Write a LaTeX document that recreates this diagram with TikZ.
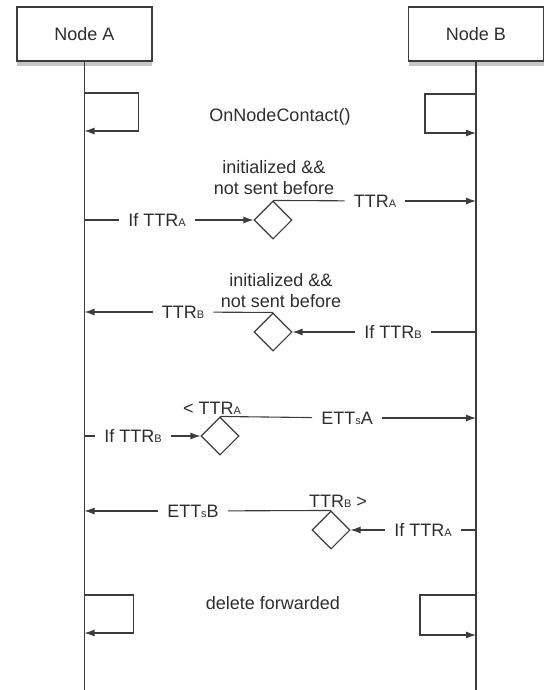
\documentclass[tikz,border=0pt]{standalone}
\usepackage{fontspec}
\setmainfont{Liberation Sans}
\usepackage{tikz}
\usetikzlibrary{arrows.meta,shapes.geometric,shadows}
\definecolor{linec}{HTML}{3C3C3C}
\definecolor{txtc}{HTML}{2E2E2E}
\newcommand{\smidx}[1]{{\fontsize{11}{11}\selectfont #1}}
\tikzset{
  ar/.style={-{Latex[length=10pt,width=7pt]},line width=1.1pt,linec},
  ln/.style={line width=1.1pt,linec},
  obj/.style={draw=linec,line width=1.1pt,fill=white,minimum width=135pt,minimum height=54pt,inner sep=0pt,text=txtc,font=\fontsize{18}{21}\selectfont,drop shadow={shadow xshift=0pt,shadow yshift=-5pt,opacity=0.45}},
  dm/.style={diamond,draw=linec,line width=1.1pt,minimum size=38pt,inner sep=0pt},
  lbl/.style={text=txtc,inner xsep=9pt,inner ysep=2pt,font=\fontsize{18}{21}\selectfont},
  cond/.style={lbl,align=center}
}

\begin{document}
\begin{tikzpicture}[x=1pt,y=-1pt]
\useasboundingbox (0,0) rectangle (544,690);
% objects and lifelines
\node[obj] (nA) at (84.5,34) {Node A};
\node[obj] (nB) at (476,34) {Node B};
\coordinate (endA) at (84.5,690); \coordinate (endB) at (476,690);
\draw[ln] (nA.south) -- (endA); \draw[ln] (nB.south) -- (endB);

% contact
\coordinate (sA1) at (84.5,93); \coordinate (sA2) at (84.5,131);
\coordinate (sB1) at (476,94); \coordinate (sB2) at (476,133);
\draw[ar] (sA1) -- ++(54,0) |- (sA2);
\draw[ar] (sB1) -- ++(-51,0) |- (sB2);
\node[lbl] (contact) at (280,117) {OnNodeContact()};

% TTR of A
\coordinate (a1) at (84.5,220); \coordinate (b1) at (476,201);
\node[lbl] (if1) at (157,220) {If TTR\smidx{A}};
\node[dm] (d1) at (273,220) {};
\node[cond] (c1) at (274,178) {initialized \&\&\\not sent before};
\node[lbl] (ttrA) at (375,201) {TTR\smidx{A}};
\draw[ln] (a1) -- (if1); \draw[ar] (if1) -- (d1);
\draw[ln] (d1.north) -- (ttrA); \draw[ar] (ttrA) -- (b1);

% TTR of B
\coordinate (a2) at (84.5,312); \coordinate (b2) at (476,332);
\node[lbl] (if2) at (393,332) {If TTR\smidx{B}};
\node[dm] (d2) at (273,332) {};
\node[cond] (c2) at (281,291) {initialized \&\&\\not sent before};
\node[lbl] (ttrB) at (183,312) {TTR\smidx{B}};
\draw[ln] (b2) -- (if2); \draw[ar] (if2) -- (d2);
\draw[ln] (d2.north) -- (ttrB); \draw[ar] (ttrB) -- (a2);

% ETTs of A
\coordinate (a3) at (84.5,436); \coordinate (b3) at (476,418);
\node[lbl] (if3) at (133,436) {If TTR\smidx{B}};
\node[dm] (d3) at (220,436) {};
\node[lbl] (c3) at (212,408) {< TTR\smidx{A}};
\node[lbl] (ettA) at (347,418) {ETT\smidx{s}A};
\draw[ln] (a3) -- (if3); \draw[ar] (if3) -- (d3);
\draw[ln] (d3.north) -- (ettA); \draw[ar] (ettA) -- (b3);

% ETTs of B
\coordinate (a4) at (84.5,511); \coordinate (b4) at (476,530);
\node[lbl] (if4) at (423,530) {If TTR\smidx{A}};
\node[dm] (d4) at (331,530) {};
\node[lbl] (c4) at (338,501) {TTR\smidx{B} >};
\node[lbl] (ettB) at (193,511) {ETT\smidx{s}B};
\draw[ln] (b4) -- (if4); \draw[ar] (if4) -- (d4);
\draw[ln] (d4.north) -- (ettB); \draw[ar] (ettB) -- (a4);

% cleanup
\coordinate (sA3) at (84.5,595); \coordinate (sA4) at (84.5,633);
\coordinate (sB3) at (476,595); \coordinate (sB4) at (476,635);
\draw[ar] (sA3) -- ++(49,0) |- (sA4);
\draw[ar] (sB3) -- ++(-56,0) |- (sB4);
\node[lbl] (del) at (273,603) {delete forwarded};
\end{tikzpicture}
\end{document}
